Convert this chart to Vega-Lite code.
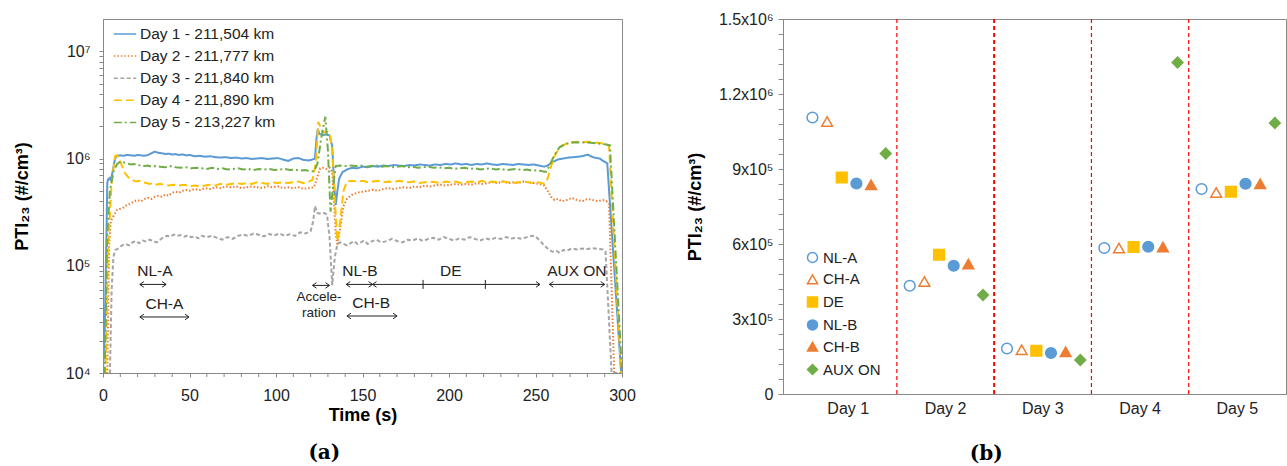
{
"$schema":"https://vega.github.io/schema/vega-lite/v6.json",
"background":"white",
"padding":{"left":12,"top":10,"right":0,"bottom":0},
"config":{"font":"Liberation Sans","view":{"stroke":"#8a8a8a","strokeWidth":1}},
"bounds":"flush",
"spacing":161,
"datasets":{
"ts":[
{"s":"Day 1 - 211,504 km","t":0,"v":10000},{"s":"Day 1 - 211,504 km","t":1,"v":25000},{"s":"Day 1 - 211,504 km","t":2,"v":200000},{"s":"Day 1 - 211,504 km","t":2.5,"v":600000},{"s":"Day 1 - 211,504 km","t":3,"v":640000},{"s":"Day 1 - 211,504 km","t":4,"v":660000},{"s":"Day 1 - 211,504 km","t":4.5,"v":620000},{"s":"Day 1 - 211,504 km","t":5.5,"v":750000},{"s":"Day 1 - 211,504 km","t":7,"v":1000000},{"s":"Day 1 - 211,504 km","t":8,"v":1060000},{"s":"Day 1 - 211,504 km","t":10,"v":1070000},{"s":"Day 1 - 211,504 km","t":12,"v":1060000},{"s":"Day 1 - 211,504 km","t":14,"v":1080000},{"s":"Day 1 - 211,504 km","t":16,"v":1070000},{"s":"Day 1 - 211,504 km","t":18,"v":1060000},{"s":"Day 1 - 211,504 km","t":20,"v":1080000},{"s":"Day 1 - 211,504 km","t":22,"v":1070000},{"s":"Day 1 - 211,504 km","t":24,"v":1060000},{"s":"Day 1 - 211,504 km","t":26,"v":1080000},{"s":"Day 1 - 211,504 km","t":28,"v":1120000},{"s":"Day 1 - 211,504 km","t":30,"v":1160000},{"s":"Day 1 - 211,504 km","t":32,"v":1130000},{"s":"Day 1 - 211,504 km","t":34,"v":1120000},{"s":"Day 1 - 211,504 km","t":36,"v":1100000},{"s":"Day 1 - 211,504 km","t":38,"v":1110000},{"s":"Day 1 - 211,504 km","t":40,"v":1090000},{"s":"Day 1 - 211,504 km","t":42,"v":1100000},{"s":"Day 1 - 211,504 km","t":44,"v":1080000},{"s":"Day 1 - 211,504 km","t":46,"v":1090000},{"s":"Day 1 - 211,504 km","t":48,"v":1070000},{"s":"Day 1 - 211,504 km","t":50,"v":1080000},{"s":"Day 1 - 211,504 km","t":53,"v":1050000},{"s":"Day 1 - 211,504 km","t":56,"v":1060000},{"s":"Day 1 - 211,504 km","t":59,"v":1040000},{"s":"Day 1 - 211,504 km","t":62,"v":1050000},{"s":"Day 1 - 211,504 km","t":65,"v":1030000},{"s":"Day 1 - 211,504 km","t":68,"v":1020000},{"s":"Day 1 - 211,504 km","t":71,"v":1030000},{"s":"Day 1 - 211,504 km","t":74,"v":1010000},{"s":"Day 1 - 211,504 km","t":77,"v":1020000},{"s":"Day 1 - 211,504 km","t":80,"v":1000000},{"s":"Day 1 - 211,504 km","t":83,"v":1010000},{"s":"Day 1 - 211,504 km","t":86,"v":990000},{"s":"Day 1 - 211,504 km","t":89,"v":1000000},{"s":"Day 1 - 211,504 km","t":92,"v":1010000},{"s":"Day 1 - 211,504 km","t":95,"v":990000},{"s":"Day 1 - 211,504 km","t":98,"v":1000000},{"s":"Day 1 - 211,504 km","t":101,"v":1010000},{"s":"Day 1 - 211,504 km","t":104,"v":980000},{"s":"Day 1 - 211,504 km","t":107,"v":950000},{"s":"Day 1 - 211,504 km","t":110,"v":1000000},{"s":"Day 1 - 211,504 km","t":113,"v":1010000},{"s":"Day 1 - 211,504 km","t":116,"v":970000},{"s":"Day 1 - 211,504 km","t":119,"v":960000},{"s":"Day 1 - 211,504 km","t":121,"v":980000},{"s":"Day 1 - 211,504 km","t":122.5,"v":1000000},{"s":"Day 1 - 211,504 km","t":123.5,"v":1600000},{"s":"Day 1 - 211,504 km","t":124.2,"v":1890000},{"s":"Day 1 - 211,504 km","t":125,"v":1700000},{"s":"Day 1 - 211,504 km","t":127,"v":1650000},{"s":"Day 1 - 211,504 km","t":129,"v":1680000},{"s":"Day 1 - 211,504 km","t":131,"v":1640000},{"s":"Day 1 - 211,504 km","t":132.5,"v":1300000},{"s":"Day 1 - 211,504 km","t":133.5,"v":600000},{"s":"Day 1 - 211,504 km","t":134.5,"v":370000},{"s":"Day 1 - 211,504 km","t":135.5,"v":500000},{"s":"Day 1 - 211,504 km","t":136.5,"v":650000},{"s":"Day 1 - 211,504 km","t":138.5,"v":750000},{"s":"Day 1 - 211,504 km","t":141,"v":790000},{"s":"Day 1 - 211,504 km","t":144,"v":820000},{"s":"Day 1 - 211,504 km","t":147,"v":810000},{"s":"Day 1 - 211,504 km","t":150,"v":840000},{"s":"Day 1 - 211,504 km","t":153,"v":830000},{"s":"Day 1 - 211,504 km","t":156,"v":850000},{"s":"Day 1 - 211,504 km","t":159,"v":840000},{"s":"Day 1 - 211,504 km","t":162,"v":860000},{"s":"Day 1 - 211,504 km","t":165,"v":850000},{"s":"Day 1 - 211,504 km","t":168,"v":870000},{"s":"Day 1 - 211,504 km","t":171,"v":860000},{"s":"Day 1 - 211,504 km","t":174,"v":850000},{"s":"Day 1 - 211,504 km","t":177,"v":870000},{"s":"Day 1 - 211,504 km","t":180,"v":860000},{"s":"Day 1 - 211,504 km","t":183,"v":880000},{"s":"Day 1 - 211,504 km","t":186,"v":870000},{"s":"Day 1 - 211,504 km","t":189,"v":860000},{"s":"Day 1 - 211,504 km","t":192,"v":880000},{"s":"Day 1 - 211,504 km","t":195,"v":870000},{"s":"Day 1 - 211,504 km","t":198,"v":890000},{"s":"Day 1 - 211,504 km","t":201,"v":880000},{"s":"Day 1 - 211,504 km","t":204,"v":900000},{"s":"Day 1 - 211,504 km","t":207,"v":880000},{"s":"Day 1 - 211,504 km","t":210,"v":890000},{"s":"Day 1 - 211,504 km","t":213,"v":870000},{"s":"Day 1 - 211,504 km","t":216,"v":890000},{"s":"Day 1 - 211,504 km","t":219,"v":880000},{"s":"Day 1 - 211,504 km","t":222,"v":900000},{"s":"Day 1 - 211,504 km","t":225,"v":880000},{"s":"Day 1 - 211,504 km","t":228,"v":870000},{"s":"Day 1 - 211,504 km","t":231,"v":890000},{"s":"Day 1 - 211,504 km","t":234,"v":880000},{"s":"Day 1 - 211,504 km","t":237,"v":870000},{"s":"Day 1 - 211,504 km","t":240,"v":890000},{"s":"Day 1 - 211,504 km","t":243,"v":880000},{"s":"Day 1 - 211,504 km","t":246,"v":870000},{"s":"Day 1 - 211,504 km","t":249,"v":880000},{"s":"Day 1 - 211,504 km","t":252,"v":860000},{"s":"Day 1 - 211,504 km","t":255,"v":840000},{"s":"Day 1 - 211,504 km","t":257,"v":860000},{"s":"Day 1 - 211,504 km","t":260,"v":930000},{"s":"Day 1 - 211,504 km","t":263,"v":980000},{"s":"Day 1 - 211,504 km","t":266,"v":1000000},{"s":"Day 1 - 211,504 km","t":269,"v":1020000},{"s":"Day 1 - 211,504 km","t":272,"v":1030000},{"s":"Day 1 - 211,504 km","t":275,"v":1040000},{"s":"Day 1 - 211,504 km","t":278,"v":1060000},{"s":"Day 1 - 211,504 km","t":280,"v":1090000},{"s":"Day 1 - 211,504 km","t":282,"v":1050000},{"s":"Day 1 - 211,504 km","t":284,"v":1020000},{"s":"Day 1 - 211,504 km","t":287,"v":1000000},{"s":"Day 1 - 211,504 km","t":290,"v":930000},{"s":"Day 1 - 211,504 km","t":291.5,"v":900000},{"s":"Day 1 - 211,504 km","t":299.5,"v":10000},
{"s":"Day 2 - 211,777 km","t":0,"v":10000},{"s":"Day 2 - 211,777 km","t":2.5,"v":10000},{"s":"Day 2 - 211,777 km","t":3.5,"v":150000},{"s":"Day 2 - 211,777 km","t":4.5,"v":260000},{"s":"Day 2 - 211,777 km","t":6,"v":290000},{"s":"Day 2 - 211,777 km","t":8,"v":330000},{"s":"Day 2 - 211,777 km","t":10,"v":340000},{"s":"Day 2 - 211,777 km","t":12,"v":350000},{"s":"Day 2 - 211,777 km","t":14,"v":370000},{"s":"Day 2 - 211,777 km","t":16,"v":380000},{"s":"Day 2 - 211,777 km","t":18,"v":400000},{"s":"Day 2 - 211,777 km","t":20,"v":410000},{"s":"Day 2 - 211,777 km","t":22,"v":400000},{"s":"Day 2 - 211,777 km","t":24,"v":420000},{"s":"Day 2 - 211,777 km","t":26,"v":430000},{"s":"Day 2 - 211,777 km","t":28,"v":420000},{"s":"Day 2 - 211,777 km","t":30,"v":440000},{"s":"Day 2 - 211,777 km","t":32,"v":450000},{"s":"Day 2 - 211,777 km","t":34,"v":440000},{"s":"Day 2 - 211,777 km","t":36,"v":460000},{"s":"Day 2 - 211,777 km","t":38,"v":450000},{"s":"Day 2 - 211,777 km","t":40,"v":480000},{"s":"Day 2 - 211,777 km","t":42,"v":490000},{"s":"Day 2 - 211,777 km","t":44,"v":480000},{"s":"Day 2 - 211,777 km","t":46,"v":500000},{"s":"Day 2 - 211,777 km","t":48,"v":510000},{"s":"Day 2 - 211,777 km","t":50,"v":500000},{"s":"Day 2 - 211,777 km","t":53,"v":520000},{"s":"Day 2 - 211,777 km","t":56,"v":510000},{"s":"Day 2 - 211,777 km","t":59,"v":530000},{"s":"Day 2 - 211,777 km","t":62,"v":520000},{"s":"Day 2 - 211,777 km","t":65,"v":540000},{"s":"Day 2 - 211,777 km","t":68,"v":530000},{"s":"Day 2 - 211,777 km","t":71,"v":550000},{"s":"Day 2 - 211,777 km","t":74,"v":540000},{"s":"Day 2 - 211,777 km","t":77,"v":550000},{"s":"Day 2 - 211,777 km","t":80,"v":530000},{"s":"Day 2 - 211,777 km","t":83,"v":540000},{"s":"Day 2 - 211,777 km","t":86,"v":550000},{"s":"Day 2 - 211,777 km","t":89,"v":540000},{"s":"Day 2 - 211,777 km","t":92,"v":530000},{"s":"Day 2 - 211,777 km","t":95,"v":550000},{"s":"Day 2 - 211,777 km","t":98,"v":540000},{"s":"Day 2 - 211,777 km","t":101,"v":550000},{"s":"Day 2 - 211,777 km","t":104,"v":530000},{"s":"Day 2 - 211,777 km","t":107,"v":540000},{"s":"Day 2 - 211,777 km","t":110,"v":530000},{"s":"Day 2 - 211,777 km","t":113,"v":540000},{"s":"Day 2 - 211,777 km","t":116,"v":520000},{"s":"Day 2 - 211,777 km","t":119,"v":530000},{"s":"Day 2 - 211,777 km","t":122,"v":540000},{"s":"Day 2 - 211,777 km","t":124,"v":680000},{"s":"Day 2 - 211,777 km","t":125.5,"v":810000},{"s":"Day 2 - 211,777 km","t":127,"v":820000},{"s":"Day 2 - 211,777 km","t":129,"v":800000},{"s":"Day 2 - 211,777 km","t":131,"v":820000},{"s":"Day 2 - 211,777 km","t":132.5,"v":750000},{"s":"Day 2 - 211,777 km","t":133.5,"v":400000},{"s":"Day 2 - 211,777 km","t":134.5,"v":200000},{"s":"Day 2 - 211,777 km","t":135.5,"v":155000},{"s":"Day 2 - 211,777 km","t":137,"v":220000},{"s":"Day 2 - 211,777 km","t":139,"v":360000},{"s":"Day 2 - 211,777 km","t":141,"v":420000},{"s":"Day 2 - 211,777 km","t":144,"v":460000},{"s":"Day 2 - 211,777 km","t":147,"v":480000},{"s":"Day 2 - 211,777 km","t":150,"v":490000},{"s":"Day 2 - 211,777 km","t":153,"v":500000},{"s":"Day 2 - 211,777 km","t":156,"v":510000},{"s":"Day 2 - 211,777 km","t":159,"v":500000},{"s":"Day 2 - 211,777 km","t":162,"v":520000},{"s":"Day 2 - 211,777 km","t":165,"v":530000},{"s":"Day 2 - 211,777 km","t":168,"v":520000},{"s":"Day 2 - 211,777 km","t":171,"v":530000},{"s":"Day 2 - 211,777 km","t":174,"v":540000},{"s":"Day 2 - 211,777 km","t":177,"v":530000},{"s":"Day 2 - 211,777 km","t":180,"v":550000},{"s":"Day 2 - 211,777 km","t":183,"v":540000},{"s":"Day 2 - 211,777 km","t":186,"v":560000},{"s":"Day 2 - 211,777 km","t":189,"v":550000},{"s":"Day 2 - 211,777 km","t":192,"v":560000},{"s":"Day 2 - 211,777 km","t":195,"v":570000},{"s":"Day 2 - 211,777 km","t":198,"v":560000},{"s":"Day 2 - 211,777 km","t":201,"v":570000},{"s":"Day 2 - 211,777 km","t":204,"v":580000},{"s":"Day 2 - 211,777 km","t":207,"v":570000},{"s":"Day 2 - 211,777 km","t":210,"v":580000},{"s":"Day 2 - 211,777 km","t":213,"v":570000},{"s":"Day 2 - 211,777 km","t":216,"v":590000},{"s":"Day 2 - 211,777 km","t":219,"v":580000},{"s":"Day 2 - 211,777 km","t":222,"v":590000},{"s":"Day 2 - 211,777 km","t":225,"v":600000},{"s":"Day 2 - 211,777 km","t":228,"v":590000},{"s":"Day 2 - 211,777 km","t":231,"v":610000},{"s":"Day 2 - 211,777 km","t":234,"v":590000},{"s":"Day 2 - 211,777 km","t":237,"v":600000},{"s":"Day 2 - 211,777 km","t":240,"v":590000},{"s":"Day 2 - 211,777 km","t":243,"v":610000},{"s":"Day 2 - 211,777 km","t":246,"v":600000},{"s":"Day 2 - 211,777 km","t":249,"v":590000},{"s":"Day 2 - 211,777 km","t":252,"v":580000},{"s":"Day 2 - 211,777 km","t":255,"v":560000},{"s":"Day 2 - 211,777 km","t":257,"v":500000},{"s":"Day 2 - 211,777 km","t":259,"v":440000},{"s":"Day 2 - 211,777 km","t":261,"v":410000},{"s":"Day 2 - 211,777 km","t":263,"v":420000},{"s":"Day 2 - 211,777 km","t":265,"v":400000},{"s":"Day 2 - 211,777 km","t":268,"v":410000},{"s":"Day 2 - 211,777 km","t":271,"v":430000},{"s":"Day 2 - 211,777 km","t":274,"v":410000},{"s":"Day 2 - 211,777 km","t":277,"v":400000},{"s":"Day 2 - 211,777 km","t":280,"v":420000},{"s":"Day 2 - 211,777 km","t":283,"v":410000},{"s":"Day 2 - 211,777 km","t":286,"v":400000},{"s":"Day 2 - 211,777 km","t":289,"v":410000},{"s":"Day 2 - 211,777 km","t":291,"v":400000},{"s":"Day 2 - 211,777 km","t":292.5,"v":380000},{"s":"Day 2 - 211,777 km","t":295.5,"v":10000},{"s":"Day 2 - 211,777 km","t":300,"v":10000},
{"s":"Day 3 - 211,840 km","t":0,"v":10000},{"s":"Day 3 - 211,840 km","t":4,"v":10000},{"s":"Day 3 - 211,840 km","t":5,"v":60000},{"s":"Day 3 - 211,840 km","t":6,"v":120000},{"s":"Day 3 - 211,840 km","t":7,"v":140000},{"s":"Day 3 - 211,840 km","t":9,"v":145000},{"s":"Day 3 - 211,840 km","t":11,"v":155000},{"s":"Day 3 - 211,840 km","t":13,"v":160000},{"s":"Day 3 - 211,840 km","t":15,"v":155000},{"s":"Day 3 - 211,840 km","t":17,"v":165000},{"s":"Day 3 - 211,840 km","t":19,"v":170000},{"s":"Day 3 - 211,840 km","t":21,"v":162000},{"s":"Day 3 - 211,840 km","t":23,"v":172000},{"s":"Day 3 - 211,840 km","t":25,"v":168000},{"s":"Day 3 - 211,840 km","t":27,"v":175000},{"s":"Day 3 - 211,840 km","t":29,"v":170000},{"s":"Day 3 - 211,840 km","t":31,"v":165000},{"s":"Day 3 - 211,840 km","t":33,"v":175000},{"s":"Day 3 - 211,840 km","t":35,"v":185000},{"s":"Day 3 - 211,840 km","t":37,"v":190000},{"s":"Day 3 - 211,840 km","t":39,"v":188000},{"s":"Day 3 - 211,840 km","t":41,"v":195000},{"s":"Day 3 - 211,840 km","t":43,"v":190000},{"s":"Day 3 - 211,840 km","t":45,"v":193000},{"s":"Day 3 - 211,840 km","t":47,"v":187000},{"s":"Day 3 - 211,840 km","t":49,"v":192000},{"s":"Day 3 - 211,840 km","t":51,"v":185000},{"s":"Day 3 - 211,840 km","t":53,"v":188000},{"s":"Day 3 - 211,840 km","t":55,"v":180000},{"s":"Day 3 - 211,840 km","t":57,"v":190000},{"s":"Day 3 - 211,840 km","t":60,"v":185000},{"s":"Day 3 - 211,840 km","t":63,"v":190000},{"s":"Day 3 - 211,840 km","t":66,"v":182000},{"s":"Day 3 - 211,840 km","t":69,"v":175000},{"s":"Day 3 - 211,840 km","t":72,"v":185000},{"s":"Day 3 - 211,840 km","t":75,"v":178000},{"s":"Day 3 - 211,840 km","t":78,"v":190000},{"s":"Day 3 - 211,840 km","t":81,"v":195000},{"s":"Day 3 - 211,840 km","t":84,"v":190000},{"s":"Day 3 - 211,840 km","t":87,"v":200000},{"s":"Day 3 - 211,840 km","t":90,"v":195000},{"s":"Day 3 - 211,840 km","t":93,"v":188000},{"s":"Day 3 - 211,840 km","t":96,"v":198000},{"s":"Day 3 - 211,840 km","t":99,"v":192000},{"s":"Day 3 - 211,840 km","t":102,"v":200000},{"s":"Day 3 - 211,840 km","t":105,"v":190000},{"s":"Day 3 - 211,840 km","t":108,"v":197000},{"s":"Day 3 - 211,840 km","t":111,"v":190000},{"s":"Day 3 - 211,840 km","t":114,"v":205000},{"s":"Day 3 - 211,840 km","t":117,"v":200000},{"s":"Day 3 - 211,840 km","t":120,"v":210000},{"s":"Day 3 - 211,840 km","t":121.5,"v":260000},{"s":"Day 3 - 211,840 km","t":122.5,"v":360000},{"s":"Day 3 - 211,840 km","t":124,"v":310000},{"s":"Day 3 - 211,840 km","t":126,"v":305000},{"s":"Day 3 - 211,840 km","t":128,"v":310000},{"s":"Day 3 - 211,840 km","t":129.5,"v":300000},{"s":"Day 3 - 211,840 km","t":131,"v":180000},{"s":"Day 3 - 211,840 km","t":132.5,"v":66000},{"s":"Day 3 - 211,840 km","t":134,"v":120000},{"s":"Day 3 - 211,840 km","t":135.5,"v":160000},{"s":"Day 3 - 211,840 km","t":137,"v":165000},{"s":"Day 3 - 211,840 km","t":139,"v":160000},{"s":"Day 3 - 211,840 km","t":141,"v":155000},{"s":"Day 3 - 211,840 km","t":143,"v":162000},{"s":"Day 3 - 211,840 km","t":145,"v":170000},{"s":"Day 3 - 211,840 km","t":147,"v":160000},{"s":"Day 3 - 211,840 km","t":149,"v":165000},{"s":"Day 3 - 211,840 km","t":151,"v":172000},{"s":"Day 3 - 211,840 km","t":153,"v":160000},{"s":"Day 3 - 211,840 km","t":155,"v":168000},{"s":"Day 3 - 211,840 km","t":158,"v":175000},{"s":"Day 3 - 211,840 km","t":161,"v":165000},{"s":"Day 3 - 211,840 km","t":164,"v":170000},{"s":"Day 3 - 211,840 km","t":167,"v":178000},{"s":"Day 3 - 211,840 km","t":170,"v":170000},{"s":"Day 3 - 211,840 km","t":173,"v":165000},{"s":"Day 3 - 211,840 km","t":176,"v":175000},{"s":"Day 3 - 211,840 km","t":179,"v":172000},{"s":"Day 3 - 211,840 km","t":182,"v":180000},{"s":"Day 3 - 211,840 km","t":185,"v":170000},{"s":"Day 3 - 211,840 km","t":188,"v":178000},{"s":"Day 3 - 211,840 km","t":191,"v":182000},{"s":"Day 3 - 211,840 km","t":194,"v":175000},{"s":"Day 3 - 211,840 km","t":197,"v":185000},{"s":"Day 3 - 211,840 km","t":200,"v":178000},{"s":"Day 3 - 211,840 km","t":203,"v":172000},{"s":"Day 3 - 211,840 km","t":206,"v":180000},{"s":"Day 3 - 211,840 km","t":209,"v":175000},{"s":"Day 3 - 211,840 km","t":212,"v":185000},{"s":"Day 3 - 211,840 km","t":215,"v":178000},{"s":"Day 3 - 211,840 km","t":218,"v":172000},{"s":"Day 3 - 211,840 km","t":221,"v":180000},{"s":"Day 3 - 211,840 km","t":224,"v":175000},{"s":"Day 3 - 211,840 km","t":227,"v":182000},{"s":"Day 3 - 211,840 km","t":230,"v":178000},{"s":"Day 3 - 211,840 km","t":233,"v":185000},{"s":"Day 3 - 211,840 km","t":236,"v":180000},{"s":"Day 3 - 211,840 km","t":239,"v":182000},{"s":"Day 3 - 211,840 km","t":242,"v":178000},{"s":"Day 3 - 211,840 km","t":245,"v":185000},{"s":"Day 3 - 211,840 km","t":248,"v":190000},{"s":"Day 3 - 211,840 km","t":250,"v":188000},{"s":"Day 3 - 211,840 km","t":252,"v":175000},{"s":"Day 3 - 211,840 km","t":255,"v":155000},{"s":"Day 3 - 211,840 km","t":258,"v":140000},{"s":"Day 3 - 211,840 km","t":260,"v":135000},{"s":"Day 3 - 211,840 km","t":262,"v":138000},{"s":"Day 3 - 211,840 km","t":264,"v":132000},{"s":"Day 3 - 211,840 km","t":266,"v":140000},{"s":"Day 3 - 211,840 km","t":268,"v":138000},{"s":"Day 3 - 211,840 km","t":271,"v":145000},{"s":"Day 3 - 211,840 km","t":274,"v":142000},{"s":"Day 3 - 211,840 km","t":277,"v":145000},{"s":"Day 3 - 211,840 km","t":280,"v":143000},{"s":"Day 3 - 211,840 km","t":283,"v":146000},{"s":"Day 3 - 211,840 km","t":286,"v":144000},{"s":"Day 3 - 211,840 km","t":289,"v":142000},{"s":"Day 3 - 211,840 km","t":290.5,"v":135000},{"s":"Day 3 - 211,840 km","t":294,"v":10000},{"s":"Day 3 - 211,840 km","t":300,"v":10000},
{"s":"Day 4 - 211,890 km","t":0,"v":10000},{"s":"Day 4 - 211,890 km","t":1.5,"v":10000},{"s":"Day 4 - 211,890 km","t":3,"v":150000},{"s":"Day 4 - 211,890 km","t":5,"v":600000},{"s":"Day 4 - 211,890 km","t":7,"v":1050000},{"s":"Day 4 - 211,890 km","t":8,"v":1070000},{"s":"Day 4 - 211,890 km","t":9.5,"v":1000000},{"s":"Day 4 - 211,890 km","t":11,"v":850000},{"s":"Day 4 - 211,890 km","t":13,"v":720000},{"s":"Day 4 - 211,890 km","t":15,"v":660000},{"s":"Day 4 - 211,890 km","t":17,"v":630000},{"s":"Day 4 - 211,890 km","t":19,"v":610000},{"s":"Day 4 - 211,890 km","t":21,"v":620000},{"s":"Day 4 - 211,890 km","t":23,"v":600000},{"s":"Day 4 - 211,890 km","t":25,"v":590000},{"s":"Day 4 - 211,890 km","t":27,"v":580000},{"s":"Day 4 - 211,890 km","t":29,"v":590000},{"s":"Day 4 - 211,890 km","t":31,"v":570000},{"s":"Day 4 - 211,890 km","t":33,"v":580000},{"s":"Day 4 - 211,890 km","t":35,"v":570000},{"s":"Day 4 - 211,890 km","t":38,"v":560000},{"s":"Day 4 - 211,890 km","t":41,"v":570000},{"s":"Day 4 - 211,890 km","t":44,"v":560000},{"s":"Day 4 - 211,890 km","t":47,"v":570000},{"s":"Day 4 - 211,890 km","t":50,"v":550000},{"s":"Day 4 - 211,890 km","t":53,"v":560000},{"s":"Day 4 - 211,890 km","t":56,"v":550000},{"s":"Day 4 - 211,890 km","t":59,"v":560000},{"s":"Day 4 - 211,890 km","t":62,"v":570000},{"s":"Day 4 - 211,890 km","t":65,"v":560000},{"s":"Day 4 - 211,890 km","t":68,"v":580000},{"s":"Day 4 - 211,890 km","t":71,"v":570000},{"s":"Day 4 - 211,890 km","t":74,"v":580000},{"s":"Day 4 - 211,890 km","t":77,"v":590000},{"s":"Day 4 - 211,890 km","t":80,"v":580000},{"s":"Day 4 - 211,890 km","t":83,"v":590000},{"s":"Day 4 - 211,890 km","t":86,"v":580000},{"s":"Day 4 - 211,890 km","t":89,"v":600000},{"s":"Day 4 - 211,890 km","t":92,"v":590000},{"s":"Day 4 - 211,890 km","t":95,"v":580000},{"s":"Day 4 - 211,890 km","t":98,"v":600000},{"s":"Day 4 - 211,890 km","t":101,"v":590000},{"s":"Day 4 - 211,890 km","t":104,"v":600000},{"s":"Day 4 - 211,890 km","t":107,"v":590000},{"s":"Day 4 - 211,890 km","t":110,"v":600000},{"s":"Day 4 - 211,890 km","t":113,"v":610000},{"s":"Day 4 - 211,890 km","t":116,"v":590000},{"s":"Day 4 - 211,890 km","t":119,"v":610000},{"s":"Day 4 - 211,890 km","t":121,"v":630000},{"s":"Day 4 - 211,890 km","t":123,"v":900000},{"s":"Day 4 - 211,890 km","t":124.5,"v":2200000},{"s":"Day 4 - 211,890 km","t":125.5,"v":2000000},{"s":"Day 4 - 211,890 km","t":127,"v":1750000},{"s":"Day 4 - 211,890 km","t":129,"v":1780000},{"s":"Day 4 - 211,890 km","t":131,"v":1740000},{"s":"Day 4 - 211,890 km","t":132.5,"v":1200000},{"s":"Day 4 - 211,890 km","t":134,"v":400000},{"s":"Day 4 - 211,890 km","t":135.5,"v":170000},{"s":"Day 4 - 211,890 km","t":137,"v":250000},{"s":"Day 4 - 211,890 km","t":139,"v":500000},{"s":"Day 4 - 211,890 km","t":141,"v":610000},{"s":"Day 4 - 211,890 km","t":144,"v":620000},{"s":"Day 4 - 211,890 km","t":147,"v":610000},{"s":"Day 4 - 211,890 km","t":150,"v":620000},{"s":"Day 4 - 211,890 km","t":153,"v":600000},{"s":"Day 4 - 211,890 km","t":156,"v":610000},{"s":"Day 4 - 211,890 km","t":159,"v":620000},{"s":"Day 4 - 211,890 km","t":162,"v":600000},{"s":"Day 4 - 211,890 km","t":165,"v":610000},{"s":"Day 4 - 211,890 km","t":168,"v":600000},{"s":"Day 4 - 211,890 km","t":171,"v":620000},{"s":"Day 4 - 211,890 km","t":174,"v":610000},{"s":"Day 4 - 211,890 km","t":177,"v":600000},{"s":"Day 4 - 211,890 km","t":180,"v":610000},{"s":"Day 4 - 211,890 km","t":183,"v":590000},{"s":"Day 4 - 211,890 km","t":186,"v":600000},{"s":"Day 4 - 211,890 km","t":189,"v":610000},{"s":"Day 4 - 211,890 km","t":192,"v":600000},{"s":"Day 4 - 211,890 km","t":195,"v":590000},{"s":"Day 4 - 211,890 km","t":198,"v":610000},{"s":"Day 4 - 211,890 km","t":201,"v":600000},{"s":"Day 4 - 211,890 km","t":204,"v":610000},{"s":"Day 4 - 211,890 km","t":207,"v":590000},{"s":"Day 4 - 211,890 km","t":210,"v":600000},{"s":"Day 4 - 211,890 km","t":213,"v":610000},{"s":"Day 4 - 211,890 km","t":216,"v":600000},{"s":"Day 4 - 211,890 km","t":219,"v":620000},{"s":"Day 4 - 211,890 km","t":222,"v":600000},{"s":"Day 4 - 211,890 km","t":225,"v":610000},{"s":"Day 4 - 211,890 km","t":228,"v":600000},{"s":"Day 4 - 211,890 km","t":231,"v":610000},{"s":"Day 4 - 211,890 km","t":234,"v":600000},{"s":"Day 4 - 211,890 km","t":237,"v":590000},{"s":"Day 4 - 211,890 km","t":240,"v":600000},{"s":"Day 4 - 211,890 km","t":243,"v":610000},{"s":"Day 4 - 211,890 km","t":246,"v":600000},{"s":"Day 4 - 211,890 km","t":249,"v":590000},{"s":"Day 4 - 211,890 km","t":252,"v":600000},{"s":"Day 4 - 211,890 km","t":255,"v":580000},{"s":"Day 4 - 211,890 km","t":257,"v":650000},{"s":"Day 4 - 211,890 km","t":259,"v":850000},{"s":"Day 4 - 211,890 km","t":261,"v":1050000},{"s":"Day 4 - 211,890 km","t":263,"v":1200000},{"s":"Day 4 - 211,890 km","t":265,"v":1300000},{"s":"Day 4 - 211,890 km","t":268,"v":1380000},{"s":"Day 4 - 211,890 km","t":271,"v":1420000},{"s":"Day 4 - 211,890 km","t":274,"v":1430000},{"s":"Day 4 - 211,890 km","t":277,"v":1420000},{"s":"Day 4 - 211,890 km","t":280,"v":1430000},{"s":"Day 4 - 211,890 km","t":283,"v":1410000},{"s":"Day 4 - 211,890 km","t":286,"v":1400000},{"s":"Day 4 - 211,890 km","t":289,"v":1380000},{"s":"Day 4 - 211,890 km","t":291,"v":1360000},{"s":"Day 4 - 211,890 km","t":292.5,"v":1300000},{"s":"Day 4 - 211,890 km","t":299.5,"v":10000},
{"s":"Day 5 - 213,227 km","t":0,"v":10000},{"s":"Day 5 - 213,227 km","t":1,"v":10000},{"s":"Day 5 - 213,227 km","t":2.5,"v":200000},{"s":"Day 5 - 213,227 km","t":4,"v":500000},{"s":"Day 5 - 213,227 km","t":6,"v":750000},{"s":"Day 5 - 213,227 km","t":8,"v":880000},{"s":"Day 5 - 213,227 km","t":10,"v":940000},{"s":"Day 5 - 213,227 km","t":12,"v":920000},{"s":"Day 5 - 213,227 km","t":14,"v":900000},{"s":"Day 5 - 213,227 km","t":16,"v":880000},{"s":"Day 5 - 213,227 km","t":18,"v":890000},{"s":"Day 5 - 213,227 km","t":20,"v":860000},{"s":"Day 5 - 213,227 km","t":22,"v":870000},{"s":"Day 5 - 213,227 km","t":24,"v":850000},{"s":"Day 5 - 213,227 km","t":26,"v":860000},{"s":"Day 5 - 213,227 km","t":28,"v":840000},{"s":"Day 5 - 213,227 km","t":30,"v":850000},{"s":"Day 5 - 213,227 km","t":33,"v":840000},{"s":"Day 5 - 213,227 km","t":36,"v":830000},{"s":"Day 5 - 213,227 km","t":39,"v":850000},{"s":"Day 5 - 213,227 km","t":42,"v":830000},{"s":"Day 5 - 213,227 km","t":45,"v":820000},{"s":"Day 5 - 213,227 km","t":48,"v":830000},{"s":"Day 5 - 213,227 km","t":51,"v":810000},{"s":"Day 5 - 213,227 km","t":54,"v":820000},{"s":"Day 5 - 213,227 km","t":57,"v":810000},{"s":"Day 5 - 213,227 km","t":60,"v":800000},{"s":"Day 5 - 213,227 km","t":63,"v":820000},{"s":"Day 5 - 213,227 km","t":66,"v":800000},{"s":"Day 5 - 213,227 km","t":69,"v":810000},{"s":"Day 5 - 213,227 km","t":72,"v":790000},{"s":"Day 5 - 213,227 km","t":75,"v":800000},{"s":"Day 5 - 213,227 km","t":78,"v":810000},{"s":"Day 5 - 213,227 km","t":81,"v":790000},{"s":"Day 5 - 213,227 km","t":84,"v":800000},{"s":"Day 5 - 213,227 km","t":87,"v":780000},{"s":"Day 5 - 213,227 km","t":90,"v":800000},{"s":"Day 5 - 213,227 km","t":93,"v":790000},{"s":"Day 5 - 213,227 km","t":96,"v":800000},{"s":"Day 5 - 213,227 km","t":99,"v":780000},{"s":"Day 5 - 213,227 km","t":102,"v":790000},{"s":"Day 5 - 213,227 km","t":105,"v":800000},{"s":"Day 5 - 213,227 km","t":108,"v":780000},{"s":"Day 5 - 213,227 km","t":111,"v":790000},{"s":"Day 5 - 213,227 km","t":114,"v":770000},{"s":"Day 5 - 213,227 km","t":117,"v":780000},{"s":"Day 5 - 213,227 km","t":120,"v":760000},{"s":"Day 5 - 213,227 km","t":122,"v":760000},{"s":"Day 5 - 213,227 km","t":124,"v":900000},{"s":"Day 5 - 213,227 km","t":126,"v":1500000},{"s":"Day 5 - 213,227 km","t":128.5,"v":2450000},{"s":"Day 5 - 213,227 km","t":130,"v":1200000},{"s":"Day 5 - 213,227 km","t":131.5,"v":320000},{"s":"Day 5 - 213,227 km","t":133,"v":550000},{"s":"Day 5 - 213,227 km","t":134.5,"v":850000},{"s":"Day 5 - 213,227 km","t":137,"v":860000},{"s":"Day 5 - 213,227 km","t":140,"v":850000},{"s":"Day 5 - 213,227 km","t":143,"v":860000},{"s":"Day 5 - 213,227 km","t":146,"v":850000},{"s":"Day 5 - 213,227 km","t":149,"v":860000},{"s":"Day 5 - 213,227 km","t":152,"v":840000},{"s":"Day 5 - 213,227 km","t":155,"v":850000},{"s":"Day 5 - 213,227 km","t":158,"v":860000},{"s":"Day 5 - 213,227 km","t":161,"v":840000},{"s":"Day 5 - 213,227 km","t":164,"v":850000},{"s":"Day 5 - 213,227 km","t":167,"v":830000},{"s":"Day 5 - 213,227 km","t":170,"v":840000},{"s":"Day 5 - 213,227 km","t":173,"v":850000},{"s":"Day 5 - 213,227 km","t":176,"v":830000},{"s":"Day 5 - 213,227 km","t":179,"v":840000},{"s":"Day 5 - 213,227 km","t":182,"v":820000},{"s":"Day 5 - 213,227 km","t":185,"v":830000},{"s":"Day 5 - 213,227 km","t":188,"v":840000},{"s":"Day 5 - 213,227 km","t":191,"v":820000},{"s":"Day 5 - 213,227 km","t":194,"v":830000},{"s":"Day 5 - 213,227 km","t":197,"v":810000},{"s":"Day 5 - 213,227 km","t":200,"v":820000},{"s":"Day 5 - 213,227 km","t":203,"v":800000},{"s":"Day 5 - 213,227 km","t":206,"v":810000},{"s":"Day 5 - 213,227 km","t":209,"v":820000},{"s":"Day 5 - 213,227 km","t":212,"v":800000},{"s":"Day 5 - 213,227 km","t":215,"v":810000},{"s":"Day 5 - 213,227 km","t":218,"v":790000},{"s":"Day 5 - 213,227 km","t":221,"v":800000},{"s":"Day 5 - 213,227 km","t":224,"v":810000},{"s":"Day 5 - 213,227 km","t":227,"v":790000},{"s":"Day 5 - 213,227 km","t":230,"v":800000},{"s":"Day 5 - 213,227 km","t":233,"v":780000},{"s":"Day 5 - 213,227 km","t":236,"v":790000},{"s":"Day 5 - 213,227 km","t":239,"v":800000},{"s":"Day 5 - 213,227 km","t":242,"v":780000},{"s":"Day 5 - 213,227 km","t":245,"v":790000},{"s":"Day 5 - 213,227 km","t":248,"v":770000},{"s":"Day 5 - 213,227 km","t":251,"v":780000},{"s":"Day 5 - 213,227 km","t":254,"v":760000},{"s":"Day 5 - 213,227 km","t":256,"v":750000},{"s":"Day 5 - 213,227 km","t":258,"v":850000},{"s":"Day 5 - 213,227 km","t":260,"v":1000000},{"s":"Day 5 - 213,227 km","t":262,"v":1150000},{"s":"Day 5 - 213,227 km","t":264,"v":1280000},{"s":"Day 5 - 213,227 km","t":267,"v":1360000},{"s":"Day 5 - 213,227 km","t":270,"v":1400000},{"s":"Day 5 - 213,227 km","t":273,"v":1420000},{"s":"Day 5 - 213,227 km","t":276,"v":1410000},{"s":"Day 5 - 213,227 km","t":279,"v":1420000},{"s":"Day 5 - 213,227 km","t":282,"v":1400000},{"s":"Day 5 - 213,227 km","t":285,"v":1390000},{"s":"Day 5 - 213,227 km","t":288,"v":1370000},{"s":"Day 5 - 213,227 km","t":291,"v":1350000},{"s":"Day 5 - 213,227 km","t":293,"v":1330000},{"s":"Day 5 - 213,227 km","t":300,"v":10000}
],
"arrows":[
{"k":"NL-A","t1":21.3,"t2":36.5,"v":67000},
{"k":"CH-A","t1":21.3,"t2":49.7,"v":33300},
{"k":"Acceleration","t1":121.1,"t2":130.9,"v":65600},
{"k":"NL-B","t1":140.6,"t2":155.8,"v":67000},
{"k":"CH-B","t1":141,"t2":170,"v":34000},
{"k":"DE","t1":155.8,"t2":252.6,"v":67000},
{"k":"AUX ON","t1":258,"t2":290,"v":67000}
],
"deticks":[{"t":185,"v":67000},{"t":221,"v":67000}],
"minor":[{"t":10},{"t":20},{"t":30},{"t":40},{"t":60},{"t":70},{"t":80},{"t":90},{"t":110},{"t":120},{"t":130},{"t":140},{"t":160},{"t":170},{"t":180},{"t":190},{"t":210},{"t":220},{"t":230},{"t":240},{"t":260},{"t":270},{"t":280},{"t":290}],
"labels":[
{"txt":"NL-A","t":30,"v":89000},
{"txt":"CH-A","t":35.5,"v":43600},
{"txt":"NL-B","t":148.5,"v":89000},
{"txt":"CH-B","t":155,"v":45000},
{"txt":"DE","t":201,"v":89000},
{"txt":"AUX ON","t":273.9,"v":89000}
],
"small":[
{"txt":"Accele-","t":124.8,"v":50600},
{"txt":"ration","t":124.8,"v":35900}
],
"pti":[
{"day":"Day 1","c":"NL-A","v":1106000},{"day":"Day 1","c":"CH-A","v":1090000},{"day":"Day 1","c":"DE","v":866000},{"day":"Day 1","c":"NL-B","v":842000},{"day":"Day 1","c":"CH-B","v":837000},{"day":"Day 1","c":"AUX ON","v":962000},
{"day":"Day 2","c":"NL-A","v":433000},{"day":"Day 2","c":"CH-A","v":450000},{"day":"Day 2","c":"DE","v":557000},{"day":"Day 2","c":"NL-B","v":513000},{"day":"Day 2","c":"CH-B","v":520000},{"day":"Day 2","c":"AUX ON","v":396000},
{"day":"Day 3","c":"NL-A","v":182000},{"day":"Day 3","c":"CH-A","v":177000},{"day":"Day 3","c":"DE","v":173000},{"day":"Day 3","c":"NL-B","v":164000},{"day":"Day 3","c":"CH-B","v":169000},{"day":"Day 3","c":"AUX ON","v":136000},
{"day":"Day 4","c":"NL-A","v":584000},{"day":"Day 4","c":"CH-A","v":584000},{"day":"Day 4","c":"DE","v":588000},{"day":"Day 4","c":"NL-B","v":589000},{"day":"Day 4","c":"CH-B","v":588000},{"day":"Day 4","c":"AUX ON","v":1326000},
{"day":"Day 5","c":"NL-A","v":820000},{"day":"Day 5","c":"CH-A","v":806000},{"day":"Day 5","c":"DE","v":809000},{"day":"Day 5","c":"NL-B","v":841000},{"day":"Day 5","c":"CH-B","v":841000},{"day":"Day 5","c":"AUX ON","v":1084000}
],
"bounds":[{"day":"Day 2"},{"day":"Day 4"},{"day":"Day 5"}],
"bound3":[{"day":"Day 3"}]
},
"hconcat":[
{
"width":519,"height":354,
"title":{"text":"(a)","orient":"bottom","anchor":"middle","frame":"bounds","font":"DejaVu Serif","fontSize":20,"fontWeight":"bold","color":"#000","offset":19},
"layer":[
{
"data":{"name":"ts"},
"mark":{"type":"line","clip":true,"strokeCap":"butt"},
"encoding":{
"x":{"field":"t","type":"quantitative","scale":{"domain":[0,300],"nice":false},
"axis":{"title":"Time (s)","titleFontSize":18,"titleFontWeight":"bold","titleColor":"#000","titlePadding":3,
"values":[0,50,100,150,200,250,300],
"labelFontSize":16,"labelColor":"#222","labelFlush":false,"labelOverlap":false,"labelBound":false,
"tickSize":4,"tickColor":"#888","domainColor":"#888","labelPadding":10,"grid":false}},
"y":{"field":"v","type":"quantitative","scale":{"type":"log","domain":[10000,20000000],"nice":false},
"axis":{"title":"PTI₂₃ (#/cm³)","titleFontSize":18,"titleFontWeight":"bold","titleColor":"#000","titlePadding":34,
"values":[10000,20000,30000,40000,50000,60000,70000,80000,90000,100000,200000,300000,400000,500000,600000,700000,800000,900000,1000000,2000000,3000000,4000000,5000000,6000000,7000000,8000000,9000000,10000000],
"labelExpr":"datum.value == 10000 ? '10⁴' : datum.value == 100000 ? '10⁵' : datum.value == 1000000 ? '10⁶' : datum.value == 10000000 ? '10⁷' : ''",
"labelFontSize":16,"labelColor":"#222","labelOverlap":false,"labelFlush":false,"labelBound":false,
"tickSize":4,"tickColor":"#888","domainColor":"#888","labelPadding":9,"grid":false}},
"color":{"field":"s","type":"nominal","scale":{"domain":["Day 1 - 211,504 km","Day 2 - 211,777 km","Day 3 - 211,840 km","Day 4 - 211,890 km","Day 5 - 213,227 km"],"range":["#5B9BD5","#ED7D31","#A5A5A5","#FFC000","#70AD47"]},
"legend":{"orient":"none","legendX":10,"legendY":3,"title":null,"labelFontSize":15.5,"labelColor":"#222","symbolType":"stroke","symbolSize":500,"rowPadding":1.1,"labelOffset":3,"padding":0}},
"strokeDash":{"field":"s","type":"nominal","scale":{"domain":["Day 1 - 211,504 km","Day 2 - 211,777 km","Day 3 - 211,840 km","Day 4 - 211,890 km","Day 5 - 213,227 km"],"range":[[1,0],[1.5,2],[4,2.5],[8,4],[8,3,2,3]]},
"legend":{"orient":"none","legendX":10,"legendY":3,"title":null,"labelFontSize":15.5,"labelColor":"#222","symbolType":"stroke","symbolSize":500,"rowPadding":1.1,"labelOffset":3,"padding":0}}
}
},
{
"data":{"name":"minor"},
"mark":{"type":"rule","color":"#888","strokeWidth":1,"y2Offset":4,"clip":false},
"encoding":{"x":{"field":"t","type":"quantitative"},"y":{"datum":10000,"type":"quantitative"},"y2":{"datum":10000}}
},
{
"data":{"name":"arrows"},
"mark":{"type":"rule","color":"#222","strokeWidth":1},
"encoding":{"x":{"field":"t1","type":"quantitative"},"x2":{"field":"t2"},"y":{"field":"v","type":"quantitative"}}
},
{
"data":{"name":"arrows"},
"mark":{"type":"point","shape":"M1,-0.7L0,0L1,0.7","size":64,"filled":false,"stroke":"#222","strokeWidth":1,"opacity":1},
"encoding":{"x":{"field":"t1","type":"quantitative"},"y":{"field":"v","type":"quantitative"}}
},
{
"data":{"name":"arrows"},
"mark":{"type":"point","shape":"M-1,-0.7L0,0L-1,0.7","size":64,"filled":false,"stroke":"#222","strokeWidth":1,"opacity":1},
"encoding":{"x":{"field":"t2","type":"quantitative"},"y":{"field":"v","type":"quantitative"}}
},
{
"data":{"name":"deticks"},
"mark":{"type":"point","shape":"M0,-1L0,1","size":81,"filled":false,"stroke":"#222","strokeWidth":1,"opacity":1},
"encoding":{"x":{"field":"t","type":"quantitative"},"y":{"field":"v","type":"quantitative"}}
},
{
"data":{"name":"labels"},
"mark":{"type":"text","fontSize":15.5,"color":"#222","baseline":"middle","align":"center"},
"encoding":{"x":{"field":"t","type":"quantitative"},"y":{"field":"v","type":"quantitative"},"text":{"field":"txt"}}
},
{
"data":{"name":"small"},
"mark":{"type":"text","fontSize":13.5,"color":"#222","baseline":"middle","align":"center"},
"encoding":{"x":{"field":"t","type":"quantitative"},"y":{"field":"v","type":"quantitative"},"text":{"field":"txt"}}
}
]
},
{
"width":503,"height":375,
"title":{"text":"(b)","orient":"bottom","anchor":"middle","frame":"bounds","font":"DejaVu Serif","fontSize":20,"fontWeight":"bold","color":"#000","offset":28},
"layer":[
{
"data":{"name":"bounds"},
"mark":{"type":"rule","color":"#FF0000","strokeDash":[4,3],"strokeWidth":1.2},
"encoding":{"x":{"field":"day","type":"nominal","bandPosition":0}}
},
{
"data":{"name":"bound3"},
"mark":{"type":"rule","color":"#FF0000","strokeDash":[4,3],"strokeWidth":2},
"encoding":{"x":{"field":"day","type":"nominal","bandPosition":0}}
},
{
"data":{"name":"pti"},
"mark":{"type":"point","opacity":1,"strokeWidth":1.5,"size":115},
"encoding":{
"x":{"field":"day","type":"nominal","scale":{"type":"band","domain":["Day 1","Day 2","Day 3","Day 4","Day 5"],"paddingInner":0,"paddingOuter":0.0853,"align":1},
"axis":{"title":null,"labelFontSize":16,"labelColor":"#222","ticks":false,"labelPadding":14,"domainColor":"#888","labelAngle":0,"bandPosition":0.5,"labelAlign":"center"}},
"xOffset":{"field":"c","type":"nominal","scale":{"type":"band","domain":["NL-A","CH-A","DE","NL-B","CH-B","AUX ON"],"paddingInner":0,"paddingOuter":0.319,"align":0.59}},
"y":{"field":"v","type":"quantitative","scale":{"domain":[0,1500000],"nice":false},
"axis":{"title":"PTI₂₃ (#/cm³)","titleFontSize":18,"titleFontWeight":"bold","titleColor":"#000","titlePadding":14,
"values":[0,60000,120000,180000,240000,300000,360000,420000,480000,540000,600000,660000,720000,780000,840000,900000,960000,1020000,1080000,1140000,1200000,1260000,1320000,1380000,1440000,1500000],
"labelExpr":"datum.value == 0 ? '0' : datum.value == 300000 ? '3x10⁵' : datum.value == 600000 ? '6x10⁵' : datum.value == 900000 ? '9x10⁵' : datum.value == 1200000 ? '1.2x10⁶' : datum.value == 1500000 ? '1.5x10⁶' : ''",
"labelFontSize":16,"labelColor":"#222","labelOverlap":false,"labelFlush":false,"labelBound":false,
"tickSize":5,"tickColor":"#888","domainColor":"#888","labelPadding":5,"grid":false}},
"shape":{"field":"c","type":"nominal","scale":{"domain":["NL-A","CH-A","DE","NL-B","CH-B","AUX ON"],"range":["circle","triangle-up","square","circle","triangle-up","diamond"]},
"legend":{"orient":"none","legendX":702,"legendY":231,"title":null,"labelFontSize":15,"labelColor":"#222","rowPadding":5.8,"labelOffset":3,"padding":0,"symbolStrokeWidth":1.5}},
"stroke":{"field":"c","type":"nominal","scale":{"domain":["NL-A","CH-A","DE","NL-B","CH-B","AUX ON"],"range":["#5B9BD5","#ED7D31","#FFC000","#5B9BD5","#ED7D31","#70AD47"]},
"legend":{"orient":"none","legendX":702,"legendY":231,"title":null,"labelFontSize":15,"labelColor":"#222","rowPadding":5.8,"labelOffset":3,"padding":0,"symbolStrokeWidth":1.5}},
"fill":{"field":"c","type":"nominal","scale":{"domain":["NL-A","CH-A","DE","NL-B","CH-B","AUX ON"],"range":["#FFFFFF","#FFFFFF","#FFC000","#5B9BD5","#ED7D31","#70AD47"]},
"legend":{"orient":"none","legendX":702,"legendY":231,"title":null,"labelFontSize":15,"labelColor":"#222","rowPadding":5.8,"labelOffset":3,"padding":0,"symbolStrokeWidth":1.5}}
}
}
]
}
]
}
